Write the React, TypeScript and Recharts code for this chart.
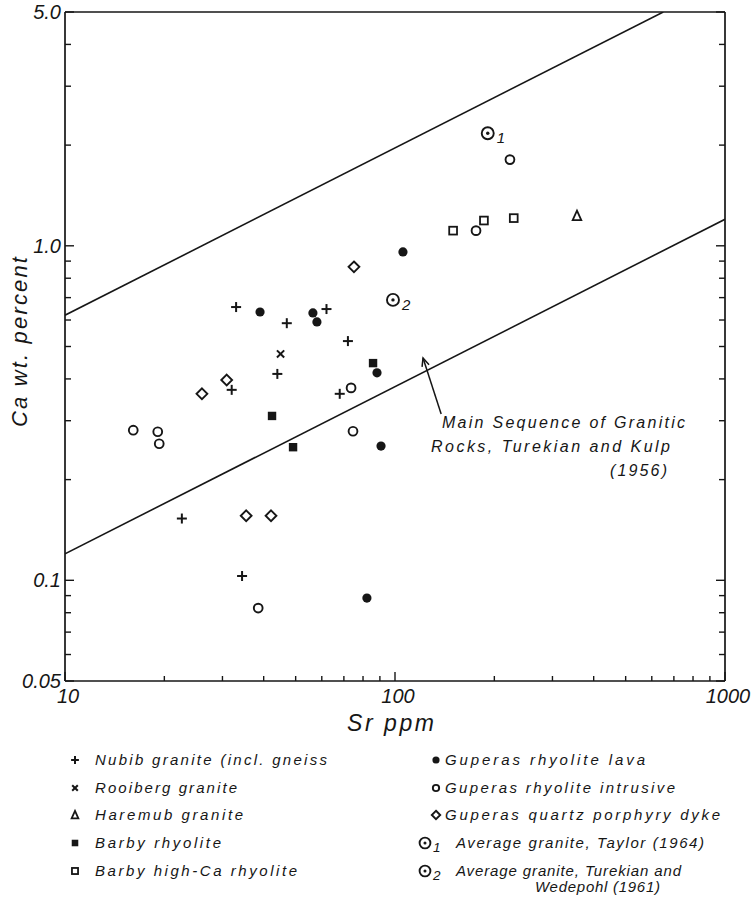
import React from 'react';
import { ScatterChart, Scatter, XAxis, YAxis, ReferenceLine } from 'recharts';

// ---------- data ----------
const xTicks = [10, 20, 30, 40, 50, 60, 70, 80, 90, 100, 200, 300, 400, 500, 600, 700, 800, 900, 1000];
const yTicks = [0.05, 0.06, 0.07, 0.08, 0.09, 0.1, 0.2, 0.3, 0.4, 0.5, 0.6, 0.7, 0.8, 0.9, 1, 2, 3, 4, 5];
const xMajorTicks = [10, 100, 1000];
const xTickLabels = ['10', '100', '1000'];
const yMajorTicks = [0.05, 0.1, 1, 5];
const yTickLabels = ['0.05', '0.1', '1.0', '5.0'];

const nubibSr = [33, 47, 62, 72, 44, 32, 68, 22.6, 34.4];
const nubibCa = [0.656, 0.587, 0.647, 0.519, 0.414, 0.371, 0.361, 0.153, 0.103];
const rooibergSr = [45];
const rooibergCa = [0.475];
const haremubSr = [356];
const haremubCa = [1.23];
const barbySr = [85.8, 42.4, 49.1];
const barbyCa = [0.446, 0.31, 0.25];
const barbyHighSr = [150, 186, 229];
const barbyHighCa = [1.11, 1.19, 1.21];
const lavaSr = [39, 56.4, 58, 88.2, 90.7, 105.7, 82.2];
const lavaCa = [0.634, 0.63, 0.592, 0.417, 0.252, 0.959, 0.0885];
const intrusiveSr = [223, 176, 73.6, 16.1, 19.1, 19.3, 74.6, 38.5];
const intrusiveCa = [1.81, 1.11, 0.376, 0.281, 0.278, 0.256, 0.279, 0.0826];
const dykeSr = [75.1, 30.9, 26, 35.4, 42.1];
const dykeCa = [0.865, 0.397, 0.361, 0.156, 0.156];
const taylorSr = [191];
const taylorCa = [2.17];
const turekianSr = [98.6];
const turekianCa = [0.689];

const upperLineSr = [10, 650];
const upperLineCa = [0.62, 5.0];
const lowerLineSr = [10, 1000];
const lowerLineCa = [0.12, 1.2];
const arrowSr = [138, 121.6];
const arrowCa = [0.314, 0.462];

const seriesNames = [
  'Nubib granite (incl. gneiss',
  'Rooiberg granite',
  'Haremub granite',
  'Barby rhyolite',
  'Barby high-Ca rhyolite',
  'Guperas rhyolite lava',
  'Guperas rhyolite intrusive',
  'Guperas quartz porphyry dyke',
  'Average granite, Taylor (1964)',
  'Average granite, Turekian and',
];
const legendExtraLine = 'Wedepohl (1961)';
const annotationLines = ['Main Sequence of Granitic', 'Rocks, Turekian and Kulp', '(1956)'];

// ---------- helpers ----------
const zip = (xs: number[], ys: number[]) => xs.map((x, i) => ({ x, y: ys[i] }));
const FONT = '"Liberation Sans", Arial, Helvetica, sans-serif';
const INK = '#161616';

type Kind = 'plus' | 'cross' | 'triangle' | 'fsquare' | 'osquare' | 'fcircle' | 'ocircle' | 'diamond' | 'avg1' | 'avg2';

const Marker = ({ kind, cx, cy, s = 1 }: { kind: Kind; cx: number; cy: number; s?: number }) => {
  switch (kind) {
    case 'plus': {
      const a = 5 * s;
      return (
        <g stroke={INK} strokeWidth={2}>
          <line x1={cx - a} x2={cx + a} y1={cy} y2={cy} />
          <line x1={cx} x2={cx} y1={cy - a} y2={cy + a} />
        </g>
      );
    }
    case 'cross': {
      const a = 3.6 * s;
      return (
        <g stroke={INK} strokeWidth={2}>
          <line x1={cx - a} x2={cx + a} y1={cy - a} y2={cy + a} />
          <line x1={cx - a} x2={cx + a} y1={cy + a} y2={cy - a} />
        </g>
      );
    }
    case 'triangle': {
      const a = 4.3 * s;
      return (
        <polygon
          points={`${cx},${cy - a * 1.2} ${cx + a},${cy + a} ${cx - a},${cy + a}`}
          fill="none"
          stroke={INK}
          strokeWidth={1.8}
        />
      );
    }
    case 'fsquare': {
      const a = 4.2 * s;
      return <rect x={cx - a} y={cy - a} width={2 * a} height={2 * a} fill={INK} />;
    }
    case 'osquare': {
      const a = 3.9 * s;
      return <rect x={cx - a} y={cy - a} width={2 * a} height={2 * a} fill="#fff" stroke={INK} strokeWidth={1.8} />;
    }
    case 'fcircle':
      return <circle cx={cx} cy={cy} r={4.6 * s} fill={INK} />;
    case 'ocircle':
      return <circle cx={cx} cy={cy} r={4.4 * s} fill="#fff" stroke={INK} strokeWidth={1.9} />;
    case 'diamond': {
      const a = 5.4 * s;
      return (
        <polygon
          points={`${cx},${cy - a} ${cx + a},${cy} ${cx},${cy + a} ${cx - a},${cy}`}
          fill="#fff"
          stroke={INK}
          strokeWidth={1.9}
        />
      );
    }
    case 'avg1':
    case 'avg2':
      return (
        <g>
          <circle cx={cx} cy={cy} r={6 * s} fill="#fff" stroke={INK} strokeWidth={1.9} />
          <circle cx={cx} cy={cy} r={1.7 * s} fill={INK} />
          <text
            x={cx + 9 * s}
            y={cy + 10 * s}
            fontSize={15 * s}
            fontStyle="italic"
            fontFamily={FONT}
            fill={INK}
          >
            {kind === 'avg1' ? '1' : '2'}
          </text>
        </g>
      );
  }
  return null;
};

const series: { name: string; kind: Kind; data: { x: number; y: number }[] }[] = [
  { name: seriesNames[0], kind: 'plus', data: zip(nubibSr, nubibCa) },
  { name: seriesNames[1], kind: 'cross', data: zip(rooibergSr, rooibergCa) },
  { name: seriesNames[2], kind: 'triangle', data: zip(haremubSr, haremubCa) },
  { name: seriesNames[3], kind: 'fsquare', data: zip(barbySr, barbyCa) },
  { name: seriesNames[4], kind: 'osquare', data: zip(barbyHighSr, barbyHighCa) },
  { name: seriesNames[5], kind: 'fcircle', data: zip(lavaSr, lavaCa) },
  { name: seriesNames[6], kind: 'ocircle', data: zip(intrusiveSr, intrusiveCa) },
  { name: seriesNames[7], kind: 'diamond', data: zip(dykeSr, dykeCa) },
  { name: seriesNames[8], kind: 'avg1', data: zip(taylorSr, taylorCa) },
  { name: seriesNames[9], kind: 'avg2', data: zip(turekianSr, turekianCa) },
];

// ---------- ticks ----------
const tickStroke = { stroke: INK, strokeWidth: 1.4 };
const labelStyle = { fontFamily: FONT, fontStyle: 'italic' as const, fontSize: 20, fill: INK };

const BottomTick = (p: any) => {
  const v = p.payload.value;
  const i = xMajorTicks.indexOf(v);
  const major = i >= 0;
  return (
    <g>
      <line x1={p.x} x2={p.x} y1={p.y} y2={p.y - (major ? 9 : 5)} {...tickStroke} />
      {major && (
        <text x={p.x + 3} y={p.y + 22} textAnchor="middle" {...labelStyle}>
          {xTickLabels[i]}
        </text>
      )}
    </g>
  );
};
const TopTick = (p: any) => {
  const major = xMajorTicks.indexOf(p.payload.value) >= 0;
  return <line x1={p.x} x2={p.x} y1={p.y} y2={p.y + (major ? 9 : 5)} {...tickStroke} />;
};
const LeftTick = (p: any) => {
  const v = p.payload.value;
  const i = yMajorTicks.indexOf(v);
  const major = i >= 0;
  return (
    <g>
      <line x1={p.x} x2={p.x + (major ? 9 : 6)} y1={p.y} y2={p.y} {...tickStroke} />
      {major && (
        <text x={p.x - 4} y={p.y + 7} textAnchor="end" {...labelStyle}>
          {yTickLabels[i]}
        </text>
      )}
    </g>
  );
};
const RightTick = (p: any) => {
  const major = yMajorTicks.indexOf(p.payload.value) >= 0;
  return <line x1={p.x} x2={p.x - (major ? 9 : 6)} y1={p.y} y2={p.y} {...tickStroke} />;
};

const ArrowShape = (p: any) => {
  const { x1, y1, x2, y2 } = p;
  const ang = Math.atan2(y2 - y1, x2 - x1);
  const L = 9;
  const w = 0.42;
  const ax = x2 - L * Math.cos(ang - w);
  const ay = y2 - L * Math.sin(ang - w);
  const bx = x2 - L * Math.cos(ang + w);
  const by = y2 - L * Math.sin(ang + w);
  return (
    <g stroke={INK} strokeWidth={1.5} fill="none">
      <line x1={x1} y1={y1} x2={x2} y2={y2} />
      <polyline points={`${ax},${ay} ${x2},${y2} ${bx},${by}`} />
    </g>
  );
};

const axisLine = { stroke: INK, strokeWidth: 1.7 };
const noShape = () => <g />;

// ---------- legend layout ----------
const legendRowsY = [760, 788, 815, 843, 871];
const legendTextWidths = [232, 142, 148, 126, 202, 200, 230, 275, 248, 225];

export default function App() {
  const textStyle = { fontFamily: FONT, fontStyle: 'italic' as const, fill: INK };
  return (
    <div style={{ position: 'relative', width: 755, height: 897, background: '#fff', overflow: 'hidden' }}>
      <style>{`html,body{margin:0;padding:0;background:#fff;overflow:hidden}`}</style>
      <ScatterChart width={755} height={897} margin={{ top: 11, right: 29, bottom: 215, left: 64 }}>
        <XAxis
          dataKey="x"
          type="number"
          scale="log"
          domain={[10, 1000]}
          allowDataOverflow
          ticks={xTicks}
          interval={0}
          height={1}
          tickSize={0}
          tickMargin={0}
          tickLine={false}
          axisLine={axisLine}
          tick={<BottomTick />}
        />
        <XAxis
          xAxisId="top"
          orientation="top"
          type="number"
          scale="log"
          domain={[10, 1000]}
          allowDataOverflow
          ticks={xTicks}
          interval={0}
          height={1}
          tickSize={0}
          tickMargin={0}
          tickLine={false}
          axisLine={axisLine}
          tick={<TopTick />}
        />
        <YAxis
          dataKey="y"
          type="number"
          scale="log"
          domain={[0.05, 5]}
          allowDataOverflow
          ticks={yTicks}
          interval={0}
          width={1}
          tickSize={0}
          tickMargin={0}
          tickLine={false}
          axisLine={axisLine}
          tick={<LeftTick />}
        />
        <YAxis
          yAxisId="right"
          orientation="right"
          type="number"
          scale="log"
          domain={[0.05, 5]}
          allowDataOverflow
          ticks={yTicks}
          interval={0}
          width={1}
          tickSize={0}
          tickMargin={0}
          tickLine={false}
          axisLine={axisLine}
          tick={<RightTick />}
        />
        <Scatter
          name="upper"
          data={zip(upperLineSr, upperLineCa)}
          line={{ stroke: INK, strokeWidth: 1.6 }}
          shape={noShape}
          isAnimationActive={false}
        />
        <Scatter
          name="lower"
          data={zip(lowerLineSr, lowerLineCa)}
          line={{ stroke: INK, strokeWidth: 1.6 }}
          shape={noShape}
          isAnimationActive={false}
        />
        <ReferenceLine
          segment={zip(arrowSr, arrowCa) as any}
          shape={ArrowShape}
          ifOverflow="visible"
        />
        {series.map((s) => (
          <Scatter
            key={s.name}
            name={s.name}
            data={s.data}
            isAnimationActive={false}
            shape={(p: any) => <Marker kind={s.kind} cx={p.cx} cy={p.cy} />}
          />
        ))}
      </ScatterChart>

      <svg
        width={755}
        height={897}
        style={{ position: 'absolute', left: 0, top: 0, pointerEvents: 'none' }}
      >
        {/* axis titles */}
        <text
          transform="translate(19,342) rotate(-90)"
          textAnchor="middle"
          dominantBaseline="central"
          fontSize={22}
          textLength={170}
          lengthAdjust="spacing"
          {...textStyle}
        >
          Ca wt. percent
        </text>
        <text x={347} y={731} fontSize={23} textLength={87} lengthAdjust="spacing" {...textStyle}>
          Sr ppm
        </text>

        {/* annotation */}
        <text x={442} y={428} fontSize={16} textLength={243} lengthAdjust="spacing" {...textStyle}>
          {annotationLines[0]}
        </text>
        <text x={431} y={452} fontSize={16} textLength={239} lengthAdjust="spacing" {...textStyle}>
          {annotationLines[1]}
        </text>
        <text x={610} y={476} fontSize={16} textLength={57} lengthAdjust="spacing" {...textStyle}>
          {annotationLines[2]}
        </text>

        {/* legend */}
        {series.map((s, i) => {
          const col = i < 5 ? 0 : 1;
          const row = i % 5;
          const cy = legendRowsY[row];
          const isAvg = s.kind === 'avg1' || s.kind === 'avg2';
          const mx = col === 0 ? 75 : isAvg ? 425 : 436;
          const tx = col === 0 ? 95 : isAvg ? 456 : 445;
          return (
            <g key={s.name}>
              <Marker kind={s.kind} cx={mx} cy={cy} s={s.kind === 'ocircle' ? 0.72 : isAvg ? 0.9 : 0.78} />
              <text
                x={tx}
                y={cy + 5}
                fontSize={15}
                textLength={legendTextWidths[i]}
                lengthAdjust="spacing"
                {...textStyle}
              >
                {s.name}
              </text>
            </g>
          );
        })}
        <text x={535} y={892} fontSize={15} textLength={125} lengthAdjust="spacing" {...textStyle}>
          {legendExtraLine}
        </text>
      </svg>
    </div>
  );
}
